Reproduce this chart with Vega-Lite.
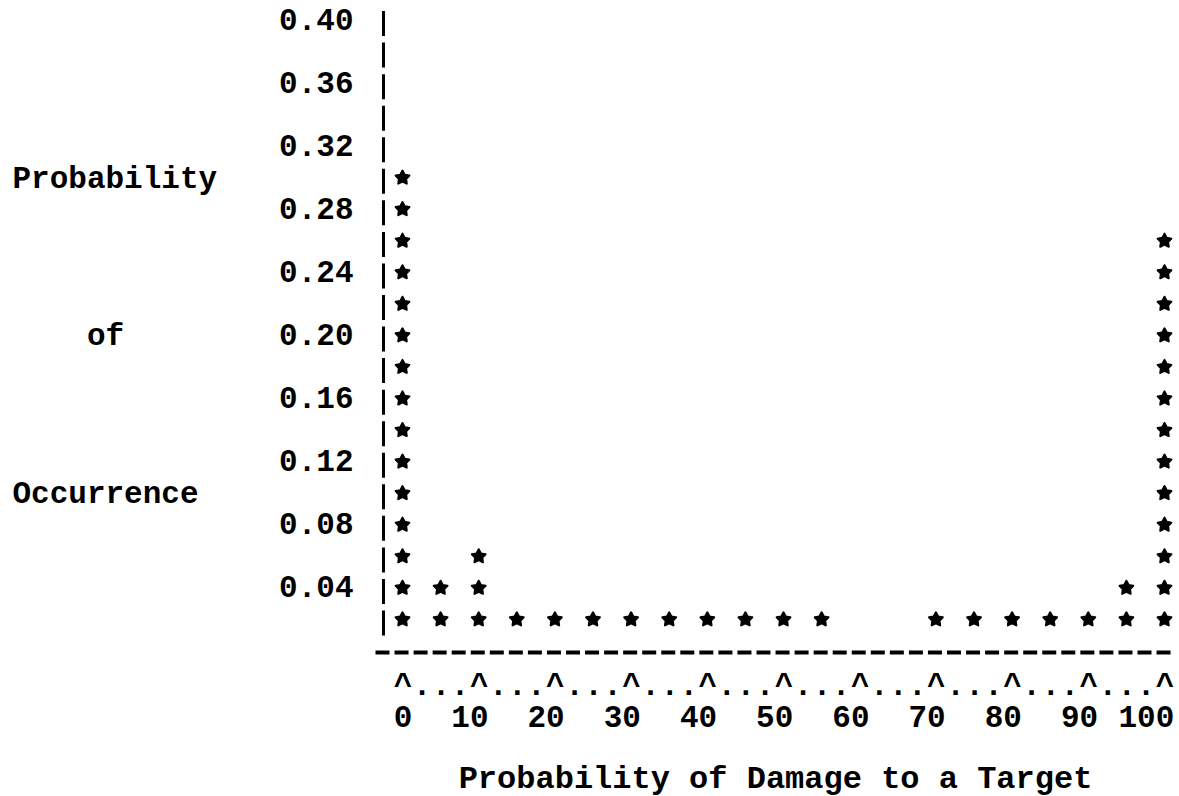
{
  "$schema": "https://vega.github.io/schema/vega-lite/v6.json",
  "autosize": "none",
  "width": 798,
  "height": 625,
  "padding": {"left": 375, "top": 10, "right": 6, "bottom": 161},
  "background": "white",
  "config": {"view": {"stroke": null}, "font": "Liberation Mono"},
  "data": {
    "values": [
      {"damage": 0, "prob": 0.02}, {"damage": 0, "prob": 0.04}, {"damage": 0, "prob": 0.06}, {"damage": 0, "prob": 0.08},
      {"damage": 0, "prob": 0.10}, {"damage": 0, "prob": 0.12}, {"damage": 0, "prob": 0.14}, {"damage": 0, "prob": 0.16},
      {"damage": 0, "prob": 0.18}, {"damage": 0, "prob": 0.20}, {"damage": 0, "prob": 0.22}, {"damage": 0, "prob": 0.24},
      {"damage": 0, "prob": 0.26}, {"damage": 0, "prob": 0.28}, {"damage": 0, "prob": 0.30},
      {"damage": 5, "prob": 0.02}, {"damage": 5, "prob": 0.04},
      {"damage": 10, "prob": 0.02}, {"damage": 10, "prob": 0.04}, {"damage": 10, "prob": 0.06},
      {"damage": 15, "prob": 0.02}, {"damage": 20, "prob": 0.02}, {"damage": 25, "prob": 0.02}, {"damage": 30, "prob": 0.02},
      {"damage": 35, "prob": 0.02}, {"damage": 40, "prob": 0.02}, {"damage": 45, "prob": 0.02}, {"damage": 50, "prob": 0.02},
      {"damage": 55, "prob": 0.02},
      {"damage": 70, "prob": 0.02}, {"damage": 75, "prob": 0.02}, {"damage": 80, "prob": 0.02}, {"damage": 85, "prob": 0.02},
      {"damage": 90, "prob": 0.02},
      {"damage": 95, "prob": 0.02}, {"damage": 95, "prob": 0.04},
      {"damage": 100, "prob": 0.02}, {"damage": 100, "prob": 0.04}, {"damage": 100, "prob": 0.06}, {"damage": 100, "prob": 0.08},
      {"damage": 100, "prob": 0.10}, {"damage": 100, "prob": 0.12}, {"damage": 100, "prob": 0.14}, {"damage": 100, "prob": 0.16},
      {"damage": 100, "prob": 0.18}, {"damage": 100, "prob": 0.20}, {"damage": 100, "prob": 0.22}, {"damage": 100, "prob": 0.24},
      {"damage": 100, "prob": 0.26}
    ]
  },
  "mark": {
    "type": "point",
    "shape": "M0,-1L0.31,-0.42L0.951,-0.309L0.5,0.16L0.588,0.809L0,0.52L-0.588,0.809L-0.5,0.16L-0.951,-0.309L-0.31,-0.42Z",
    "filled": true,
    "fill": "black",
    "stroke": "black",
    "strokeWidth": 2,
    "strokeJoin": "round",
    "size": 210,
    "opacity": 1
  },
  "encoding": {
    "x": {
      "field": "damage",
      "type": "quantitative",
      "scale": {"domain": [-3.609, 101.115], "nice": false, "zero": false},
      "axis": {
        "title": "Probability of Damage to a Target",
        "values": [0, 2.5, 5, 7.5, 10, 12.5, 15, 17.5, 20, 22.5, 25, 27.5, 30, 32.5, 35, 37.5, 40, 42.5, 45, 47.5, 50, 52.5, 55, 57.5, 60, 62.5, 65, 67.5, 70, 72.5, 75, 77.5, 80, 82.5, 85, 87.5, 90, 92.5, 95, 97.5, 100],
        "labelExpr": "datum.value % 10 === 0 ? ['^', format(datum.value, 'd')] : '.'",
        "labelAlign": "right",
        "labelOffset": 9.3,
        "labelBaseline": "alphabetic",
        "labelPadding": 42,
        "labelLineHeight": 32,
        "labelFont": "Liberation Mono",
        "labelFontSize": 31,
        "labelFontWeight": "bold",
        "labelColor": "black",
        "labelOverlap": false,
        "labelFlush": false,
        "labelBound": false,
        "ticks": false,
        "tickSize": 0,
        "grid": false,
        "domain": true,
        "domainColor": "black",
        "domainWidth": 4,
        "domainDash": [14, 5.05],
        "domainCap": "butt",
        "offset": 17,
        "titleFont": "Liberation Mono",
        "titleFontSize": 32,
        "titleFontWeight": "bold",
        "titleColor": "black",
        "titleX": 400,
        "titleY": 135,
        "titleAlign": "center",
        "titleAnchor": null,
        "titleBaseline": "alphabetic"
      }
    },
    "y": {
      "field": "prob",
      "type": "quantitative",
      "scale": {"domain": [0.01021, 0.40634], "nice": false, "zero": false},
      "axis": {
        "title": ["Probability", "\u200b\u00a0\u00a0\u00a0\u00a0of", "Occurrence"],
        "values": [0.04, 0.08, 0.12, 0.16, 0.20, 0.24, 0.28, 0.32, 0.36, 0.40],
        "format": ".2f",
        "labelFont": "Liberation Mono",
        "labelFontSize": 31,
        "labelFontWeight": "bold",
        "labelColor": "black",
        "labelPadding": 30,
        "labelAlign": "right",
        "labelBaseline": "middle",
        "labelOverlap": false,
        "labelFlush": false,
        "labelBound": false,
        "ticks": false,
        "tickSize": 0,
        "grid": false,
        "offset": -8,
        "domain": true,
        "domainColor": "black",
        "domainWidth": 3,
        "domainDash": [25, 6.55],
        "domainCap": "butt",
        "titleFont": "Liberation Mono",
        "titleFontSize": 31,
        "titleFontWeight": "bold",
        "titleColor": "black",
        "titleAngle": 0,
        "titleAlign": "left",
        "titleBaseline": "alphabetic",
        "titleAnchor": null,
        "titleX": -371,
        "titleY": 177,
        "titleLineHeight": 157.75
      }
    }
  }
}
